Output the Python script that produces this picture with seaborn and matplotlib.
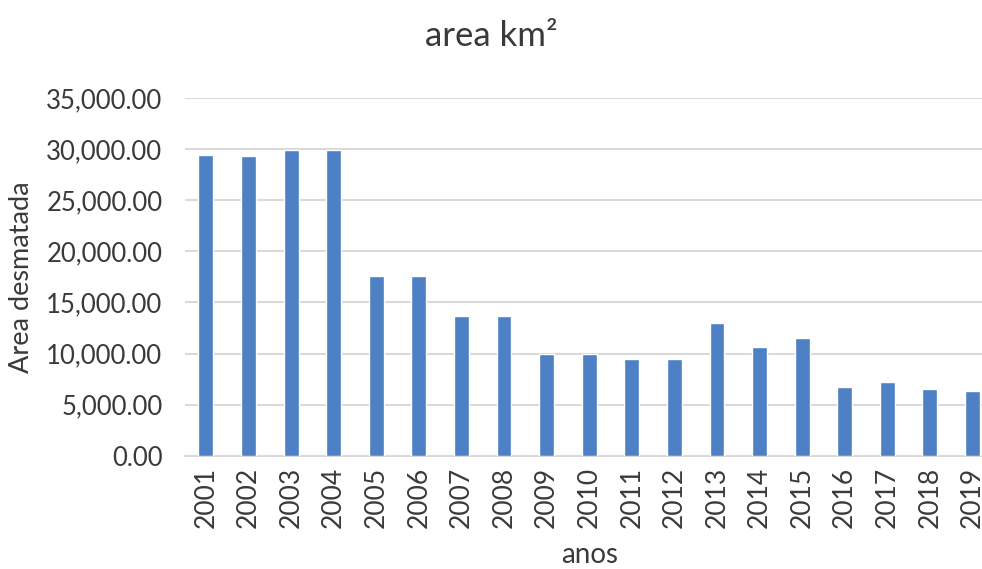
import matplotlib
matplotlib.use("Agg")
import matplotlib.pyplot as plt
import seaborn as sns
import pandas as pd
from matplotlib.ticker import FuncFormatter, MultipleLocator

# values
anos = [str(a) for a in range(2001, 2020)]
area = [29400, 29300, 29900, 29900, 17550, 17550, 13620, 13620, 9980, 9980,
        9490, 9490, 13000, 10660, 11530, 6750, 7240, 6560, 6370]

df = pd.DataFrame({"anos": anos, "area": area})

sns.set_theme(style="white")
plt.rcParams['font.family'] = ['Lato', 'DejaVu Sans']

fig = plt.figure(figsize=(9.82, 5.69), dpi=100)
# the last category runs past the right edge, as in the reference
ax = fig.add_axes([0.188, 0.199, 1.012 - 0.188, 0.828 - 0.199])

sns.barplot(data=df, x="anos", y="area", color="#4d80c4", saturation=1,
            width=0.35, ax=ax, zorder=3)

ax.set_ylim(0, 35000)
ax.set_xlim(-0.5, 18.5)
ax.yaxis.set_major_locator(MultipleLocator(5000))
ax.yaxis.set_major_formatter(FuncFormatter(lambda v, p: f"{v:,.2f}"))
ax.grid(axis="y", color="#d9d9d9", linewidth=1.5, zorder=0)
ax.set_axisbelow(True)

txt = "#3a3a3a"
ax.tick_params(axis="y", labelsize=18.5, colors=txt, length=0, pad=16)
ax.tick_params(axis="x", labelsize=19, colors=txt, length=0, pad=8, rotation=90)
sns.despine(ax=ax, left=True, top=True, right=True)
ax.spines["bottom"].set_color("#d9d9d9")
ax.spines["bottom"].set_linewidth(1.5)

ax.set_xlabel("anos", fontsize=20, color=txt, labelpad=10)
ax.set_ylabel("Area desmatada", fontsize=19.5, color=txt, labelpad=9)
fig.text(0.5, 0.937, "area km²", ha="center", va="center", fontsize=25, color=txt)

fig.savefig("out.png", dpi=100)
